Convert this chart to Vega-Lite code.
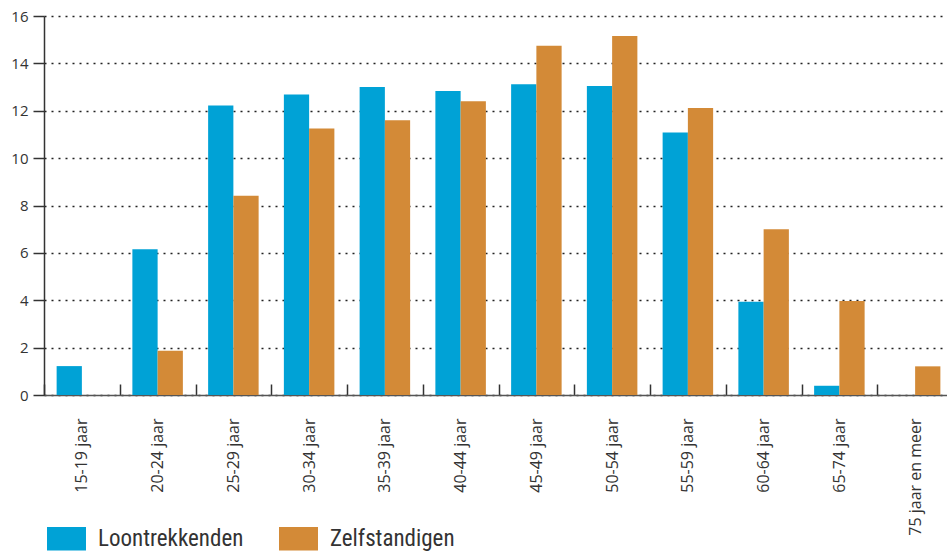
{
  "$schema": "https://vega.github.io/schema/vega-lite/v6.json",
  "autosize": "none",
  "width": 909,
  "height": 379,
  "padding": {"left": 44, "top": 16, "right": 0, "bottom": 160},
  "background": "white",
  "config": {
    "view": {"stroke": null},
    "font": "Open Sans",
    "axis": {"labelFont": "Open Sans", "labelColor": "#333333", "labelFontSize": 15}
  },
  "data": {
    "values": [
      {"age": "15-19 jaar", "type": "Loontrekkenden", "value": 1.22},
      {"age": "15-19 jaar", "type": "Zelfstandigen", "value": 0},
      {"age": "20-24 jaar", "type": "Loontrekkenden", "value": 6.15},
      {"age": "20-24 jaar", "type": "Zelfstandigen", "value": 1.87},
      {"age": "25-29 jaar", "type": "Loontrekkenden", "value": 12.22},
      {"age": "25-29 jaar", "type": "Zelfstandigen", "value": 8.41},
      {"age": "30-34 jaar", "type": "Loontrekkenden", "value": 12.69},
      {"age": "30-34 jaar", "type": "Zelfstandigen", "value": 11.25},
      {"age": "35-39 jaar", "type": "Loontrekkenden", "value": 13.0},
      {"age": "35-39 jaar", "type": "Zelfstandigen", "value": 11.6},
      {"age": "40-44 jaar", "type": "Loontrekkenden", "value": 12.83},
      {"age": "40-44 jaar", "type": "Zelfstandigen", "value": 12.4},
      {"age": "45-49 jaar", "type": "Loontrekkenden", "value": 13.12},
      {"age": "45-49 jaar", "type": "Zelfstandigen", "value": 14.74},
      {"age": "50-54 jaar", "type": "Loontrekkenden", "value": 13.05},
      {"age": "50-54 jaar", "type": "Zelfstandigen", "value": 15.16},
      {"age": "55-59 jaar", "type": "Loontrekkenden", "value": 11.08},
      {"age": "55-59 jaar", "type": "Zelfstandigen", "value": 12.12},
      {"age": "60-64 jaar", "type": "Loontrekkenden", "value": 3.94},
      {"age": "60-64 jaar", "type": "Zelfstandigen", "value": 7.0},
      {"age": "65-74 jaar", "type": "Loontrekkenden", "value": 0.39},
      {"age": "65-74 jaar", "type": "Zelfstandigen", "value": 3.97},
      {"age": "75 jaar en meer", "type": "Loontrekkenden", "value": 0},
      {"age": "75 jaar en meer", "type": "Zelfstandigen", "value": 1.21}
    ]
  },
  "mark": {"type": "bar"},
  "encoding": {
    "x": {
      "field": "age",
      "type": "nominal",
      "sort": null,
      "title": null,
      "scale": {"paddingInner": 0, "paddingOuter": 0},
      "axis": {
        "labelAngle": -90,
        "labelAlign": "right",
        "labelBaseline": "middle",
        "labelFontSize": 16,
        "tickBand": "extent",
        "tickSize": -11,
        "tickColor": "#333333",
        "tickWidth": 1.5,
        "labelPadding": 34,
        "domainColor": "#555555",
        "domainWidth": 1.5,
        "grid": false
      }
    },
    "xOffset": {
      "field": "type",
      "type": "nominal",
      "scale": {"paddingInner": 0, "paddingOuter": 0.5}
    },
    "y": {
      "field": "value",
      "type": "quantitative",
      "title": null,
      "scale": {"domain": [0, 16], "nice": false},
      "axis": {
        "values": [0, 2, 4, 6, 8, 10, 12, 14, 16],
        "tickSize": 11,
        "tickColor": "#333333",
        "tickWidth": 1.5,
        "labelPadding": 5,
        "domainColor": "#333333",
        "domainWidth": 1.5,
        "grid": true,
        "gridColor": "#222222",
        "gridDash": [2, 5],
        "gridWidth": 1.3
      }
    },
    "opacity": {
      "condition": {"test": "datum.value > 0", "value": 1},
      "value": 0
    },
    "color": {
      "field": "type",
      "type": "nominal",
      "scale": {"domain": ["Loontrekkenden", "Zelfstandigen"], "range": ["#00a2d6", "#d38a37"]},
      "legend": {
        "title": null,
        "orient": "none",
        "legendX": 3,
        "legendY": 503,
        "direction": "horizontal",
        "symbolType": "M-1,-0.6H1V0.6H-1Z",
        "symbolSize": 1520,
        "symbolStrokeWidth": 0,
        "symbolOpacity": 1,
        "labelFont": "Liberation Sans Narrow, Roboto Condensed, DejaVu Sans Condensed, Open Sans",
        "labelFontSize": 23,
        "labelColor": "#333333",
        "labelOffset": 12,
        "columnPadding": 35,
        "labelLimit": 300
      }
    }
  }
}
